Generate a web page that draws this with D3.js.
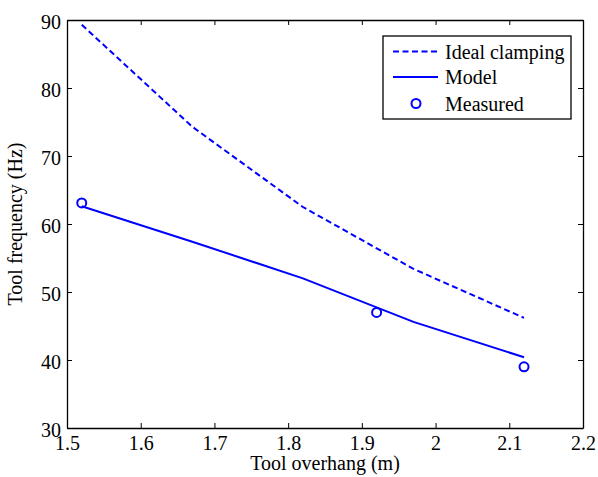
<!DOCTYPE html>
<html>
<head>
<meta charset="utf-8">
<script src="https://cdn.jsdelivr.net/npm/d3@7"></script>
<style>
  html, body { margin: 0; padding: 0; background: #fff; }
  svg { display: block; }
  svg text { font-family: 'Liberation Serif', 'Times New Roman', 'DejaVu Serif', serif !important; fill: #000; }
</style>
</head>
<body>
<svg id="chart" width="598" height="477"></svg>
<script>
// Tool overhang (m) vs. first natural frequency (Hz)
const overhang = [1.52, 1.67, 1.82, 1.97, 2.12];
const idealClamping = [89.3, 74.3, 62.5, 53.4, 46.2];
const model = [62.6, 57.4, 52.0, 45.6, 40.4];

const measuredOverhang = [1.52, 1.92, 2.12];
const measuredFreq = [63.1, 47.0, 39.0];

const xTicks = [1.5, 1.6, 1.7, 1.8, 1.9, 2.0, 2.1, 2.2];
const yTicks = [30, 40, 50, 60, 70, 80, 90];

const legendLabels = ["Ideal clamping", "Model", "Measured"];

const svg = d3.select("#chart");
const blue = "#0000ff";
const serif = "'Liberation Serif', 'Times New Roman', serif";

const plotLeft = 67, plotRight = 583, plotTop = 20, plotBottom = 428;

const x = d3.scaleLinear().domain([1.5, 2.2]).range([plotLeft, plotRight]);
const y = d3.scaleLinear().domain([30, 90]).range([plotBottom, plotTop]);

const fmtX = d => (d === 2 ? "2" : d3.format(".1f")(d));

// Axes: ticks pointing inward on all four sides, labels on bottom and left
const axisStyle = g => {
  g.attr("font-family", serif).attr("font-size", 20);
  g.selectAll("path.domain").attr("stroke", "#000").attr("stroke-width", 1.3);
  g.selectAll(".tick line").attr("stroke", "#000").attr("stroke-width", 1);
  g.selectAll("text").attr("fill", "#000");
};

svg.append("g")
  .attr("transform", `translate(0,${plotBottom})`)
  .call(d3.axisBottom(x).tickValues(xTicks).tickFormat(fmtX).tickSizeInner(-5).tickSizeOuter(0).tickPadding(8))
  .call(axisStyle);

svg.append("g")
  .attr("transform", `translate(0,${plotTop})`)
  .call(d3.axisTop(x).tickValues(xTicks).tickFormat("").tickSizeInner(-5).tickSizeOuter(0))
  .call(axisStyle);

svg.append("g")
  .attr("transform", `translate(${plotLeft},0)`)
  .call(d3.axisLeft(y).tickValues(yTicks).tickFormat(d3.format("d")).tickSizeInner(-5).tickSizeOuter(0).tickPadding(6))
  .call(axisStyle)
  .selectAll("text").attr("dy", "0.42em");

svg.append("g")
  .attr("transform", `translate(${plotRight},0)`)
  .call(d3.axisRight(y).tickValues(yTicks).tickFormat("").tickSizeInner(-5).tickSizeOuter(0))
  .call(axisStyle);

// Axis titles
svg.append("text")
  .attr("x", (plotLeft + plotRight) / 2)
  .attr("y", 470)
  .attr("text-anchor", "middle")
  .attr("font-family", serif)
  .attr("font-size", 20)
  .text("Tool overhang (m)");

svg.append("text")
  .attr("transform", `translate(22,${(plotTop + plotBottom) / 2}) rotate(-90)`)
  .attr("text-anchor", "middle")
  .attr("font-family", serif)
  .attr("font-size", 20)
  .text("Tool frequency (Hz)");

// Curves
const line = d3.line().x(d => x(d[0])).y(d => y(d[1]));

svg.append("path")
  .datum(d3.zip(overhang, idealClamping))
  .attr("d", line)
  .attr("fill", "none")
  .attr("stroke", blue)
  .attr("stroke-width", 2)
  .attr("stroke-dasharray", "6,3.5");

svg.append("path")
  .datum(d3.zip(overhang, model))
  .attr("d", line)
  .attr("fill", "none")
  .attr("stroke", blue)
  .attr("stroke-width", 2);

svg.append("g")
  .selectAll("circle")
  .data(d3.zip(measuredOverhang, measuredFreq))
  .join("circle")
  .attr("cx", d => x(d[0]))
  .attr("cy", d => y(d[1]))
  .attr("r", 4.5)
  .attr("fill", "none")
  .attr("stroke", blue)
  .attr("stroke-width", 2);

// Legend
const lg = svg.append("g");
lg.append("rect")
  .attr("x", 383).attr("y", 36)
  .attr("width", 188).attr("height", 83)
  .attr("fill", "#fff")
  .attr("stroke", "#000")
  .attr("stroke-width", 1.3);

const rowY = [51.5, 77, 103.5];
lg.append("line")
  .attr("x1", 393).attr("x2", 438).attr("y1", rowY[0]).attr("y2", rowY[0])
  .attr("stroke", blue).attr("stroke-width", 2).attr("stroke-dasharray", "6,3.5");
lg.append("line")
  .attr("x1", 393).attr("x2", 438).attr("y1", rowY[1]).attr("y2", rowY[1])
  .attr("stroke", blue).attr("stroke-width", 2);
lg.append("circle")
  .attr("cx", 416).attr("cy", rowY[2]).attr("r", 4.5)
  .attr("fill", "none").attr("stroke", blue).attr("stroke-width", 2);

lg.selectAll("text.lbl")
  .data(legendLabels)
  .join("text")
  .attr("class", "lbl")
  .attr("x", 445)
  .attr("y", (d, i) => rowY[i] + 7)
  .attr("font-family", serif)
  .attr("font-size", 20)
  .text(d => d);
</script>
</body>
</html>
